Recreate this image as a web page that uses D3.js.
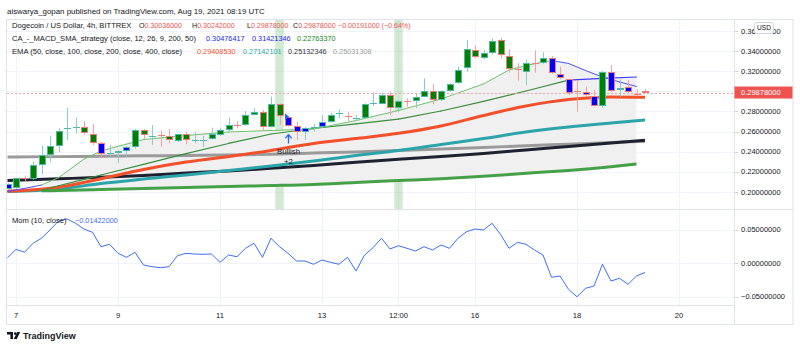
<!DOCTYPE html>
<html><head><meta charset="utf-8">
<script src="https://cdn.jsdelivr.net/npm/d3@7"></script>
<style>body{margin:0;background:#fff;}svg{display:block;font-family:"Liberation Sans",Arial,sans-serif;}</style>
</head><body><svg id="c" width="800" height="348"></svg>
<script>
// ---------- data ----------
const firstBar = "2021-08-06T20:00:00Z"; // 4h bars
const opens  = [0.2030,0.2035,0.2140,0.2125,0.2267,0.2366,0.2460,0.2620,0.2638,0.2645,0.2572,0.2490,0.2378,0.2389,0.2406,0.2443,0.2612,0.2555,0.2562,0.2558,0.2505,0.2575,0.2512,0.2515,0.2525,0.2565,0.2615,0.2668,0.2665,0.2764,0.2797,0.2648,0.2874,0.2747,0.2655,0.2598,0.2636,0.2648,0.2698,0.2778,0.2750,0.2728,0.2737,0.2878,0.2874,0.2963,0.2831,0.2900,0.2903,0.2946,0.3003,0.2913,0.3003,0.3080,0.3229,0.3411,0.3328,0.3378,0.3510,0.3354,0.3222,0.3195,0.3282,0.3279,0.3334,0.3172,0.3119,0.3000,0.2990,0.2956,0.2857,0.3195,0.3013,0.3040,0.2972,0.30036];
const highs  = [0.2085,0.2140,0.2160,0.2300,0.2459,0.2558,0.2632,0.2837,0.2737,0.2704,0.2672,0.2495,0.2466,0.2416,0.2455,0.2625,0.2625,0.2665,0.2608,0.2625,0.2575,0.2598,0.2598,0.2558,0.2638,0.2638,0.2737,0.2704,0.2804,0.2831,0.2814,0.2946,0.2880,0.2755,0.2698,0.2642,0.2675,0.2764,0.2787,0.2821,0.2797,0.2764,0.2880,0.2986,0.2986,0.2996,0.2910,0.2930,0.2980,0.3129,0.3070,0.3010,0.3080,0.3245,0.3510,0.3454,0.3411,0.3527,0.3530,0.3418,0.3279,0.3318,0.3404,0.3388,0.3350,0.3245,0.3125,0.3113,0.3046,0.3013,0.3200,0.3262,0.3119,0.3113,0.3020,0.30242];
const lows   = [0.2020,0.2030,0.2110,0.2120,0.2174,0.2300,0.2393,0.2515,0.2582,0.2565,0.2466,0.2343,0.2350,0.2284,0.2343,0.2430,0.2525,0.2466,0.2449,0.2483,0.2495,0.2473,0.2483,0.2443,0.2520,0.2555,0.2605,0.2632,0.2655,0.2760,0.2615,0.2640,0.2665,0.2650,0.2515,0.2515,0.2598,0.2640,0.2690,0.2731,0.2704,0.2704,0.2730,0.2854,0.2870,0.2764,0.2791,0.2847,0.2831,0.2940,0.2871,0.2905,0.2995,0.3075,0.3195,0.3330,0.3320,0.3370,0.3328,0.3185,0.3105,0.3063,0.3185,0.3270,0.3175,0.3120,0.2963,0.2797,0.2955,0.2850,0.2840,0.2995,0.2946,0.2985,0.2950,0.29878];
const closes = [0.2075,0.2134,0.2130,0.2267,0.2366,0.2459,0.2608,0.2638,0.2645,0.2590,0.2483,0.2376,0.2386,0.2406,0.2449,0.2615,0.2565,0.2560,0.2556,0.2515,0.2572,0.2515,0.2518,0.2520,0.2575,0.2615,0.2665,0.2662,0.2764,0.2797,0.2648,0.2874,0.2757,0.2658,0.2598,0.2638,0.2640,0.2698,0.2764,0.2782,0.2742,0.2734,0.2871,0.2884,0.2963,0.2831,0.2903,0.2895,0.2940,0.3003,0.2913,0.3003,0.3073,0.3212,0.3418,0.3338,0.3384,0.3504,0.3361,0.3222,0.3215,0.3279,0.3276,0.3328,0.3185,0.3129,0.2980,0.2993,0.2963,0.2857,0.3195,0.3003,0.3030,0.2990,0.2968,0.29878];
const bearBars = [0,11,12,13,14,33,34,35,36,37,60,62,64,65,66,67,68,69,71,72,73,74,75];
const highlightBars = [32,46];
const signalBar = 33;

const momValues = [0.0079,0.0204,0.0160,0.0294,0.0369,0.0493,0.0627,0.0657,0.0593,0.0507,0.0458,0.0243,0.0279,0.0145,0.0085,0.0160,-0.0030,-0.0055,-0.0070,-0.0055,0.0109,0.0145,0.0134,0.0130,0.0134,0.0010,0.0119,0.0094,0.0219,0.0294,0.0085,0.0369,0.0243,0.0145,0.0030,0.0030,-0.0019,0.0045,0.0010,-0.0019,0.0085,-0.0119,0.0119,0.0228,0.0369,0.0209,0.0258,0.0219,0.0179,0.0243,0.0194,0.0269,0.0219,0.0369,0.0467,0.0507,0.0493,0.0593,0.0428,0.0219,0.0309,0.0279,0.0194,0.0119,-0.0213,-0.0194,-0.0393,-0.0504,-0.0378,-0.0343,-0.0019,-0.0269,-0.0228,-0.0318,-0.0194,-0.01422];

const emaBars = [0,6,11,16,21,26,31,36,41,46,51,56,61,66,71,75];
const ema50  = [0.2005,0.2045,0.2130,0.2222,0.2296,0.2351,0.2411,0.2481,0.2530,0.2582,0.2655,0.2759,0.2854,0.2918,0.2944,0.29408530];
const ema100 = [0.2003,0.2028,0.2083,0.2127,0.2167,0.2212,0.2257,0.2306,0.2361,0.2411,0.2471,0.2530,0.2595,0.2645,0.2685,0.27142101];
const ema200 = [0.2112,0.2129,0.2144,0.2162,0.2187,0.2207,0.2234,0.2262,0.2294,0.2323,0.2351,0.2381,0.2416,0.2451,0.2486,0.25132346];
const ema400 = [0.2346,0.2350,0.2354,0.2358,0.2362,0.2367,0.2373,0.2385,0.2397,0.2410,0.2425,0.2441,0.2458,0.2474,0.2490,0.25031308];

const fastBars   = [0,3,4,6,9,11,16,21,26,31,36,41,46,51,56,59,61,64,66,68,70,72,74];
const fastValues = [0.2003,0.2050,0.2068,0.2140,0.2326,0.2406,0.2520,0.2560,0.2595,0.2610,0.2625,0.2709,0.2809,0.2923,0.3073,0.3212,0.3257,0.3306,0.3277,0.3207,0.3142,0.3093,0.30476417];
const fastTrend  = ["b","b","b","g","g","g","g","g","g","g","g","g","g","g","g","g","g","g","b","b","b","b","b"];
const slowBars   = [4,6,9,11,16,21,26,31,36,41,46,51,56,61,66,70,74];
const slowValues = [0.2013,0.2060,0.2123,0.2167,0.2273,0.2380,0.2481,0.2575,0.2630,0.2675,0.2724,0.2804,0.2899,0.3003,0.3112,0.3129,0.31421346];
const slowTrend  = ["g","g","g","g","g","g","g","g","g","g","g","g","g","g","g","b","b"];
const baseBars   = [4,6,11,16,21,26,31,36,41,46,51,56,61,66,71,74];
const baseValues = [0.2010,0.2013,0.2023,0.2033,0.2043,0.2053,0.2062,0.2073,0.2093,0.2112,0.2131,0.2155,0.2184,0.2213,0.2250,0.22763370];

const priceTicks = [0.20,0.22,0.24,0.26,0.28,0.30,0.32,0.34,0.36];
const momTicks = [0.05,0,-0.05];
const timeTicks = ["2021-08-07T00:00:00Z","2021-08-09T00:00:00Z","2021-08-11T00:00:00Z","2021-08-13T00:00:00Z","2021-08-14T12:00:00Z","2021-08-16T00:00:00Z","2021-08-18T00:00:00Z","2021-08-20T00:00:00Z"];
const timeTickLabels = ["7","9","11","13","12:00","16","18","20"];
const lastPrice = 0.29878;

// ---------- scales ----------
const svg = d3.select("#c");
const L = 6.5, R = 734.5, T = 19.5, PB = 209.5, MB = 305.5, B = 324.5, RR = 793;
const x = d3.scaleUtc().domain([new Date("2021-08-07T00:00:00Z"), new Date("2021-08-20T00:00:00Z")]).range([16, 679]);
const y = d3.scaleLinear().domain([0.20, 0.36]).range([191.8, 31.0]);
const ym = d3.scaleLinear().domain([-0.05, 0.05]).range([296.5, 229.5]);
const t0 = new Date(firstBar).getTime(), barMs = 4 * 3600 * 1000;
const bt = k => new Date(t0 + k * barMs);
const bx = k => x(bt(k));
const spacing = bx(1) - bx(0);
const fmt8 = d3.format(".8f");
const TXT = "#131722";

svg.append("rect").attr("width", 800).attr("height", 348).attr("fill", "#fff");
svg.append("text").attr("x", 7).attr("y", 14).attr("font-size", 7.9).attr("fill", TXT)
  .text("aiswarya_gopan published on TradingView.com, Aug 19, 2021 08:19 UTC");

const defs = svg.append("defs");
defs.append("clipPath").attr("id", "mainClip").append("rect").attr("x", 7).attr("y", 20).attr("width", R - 7).attr("height", PB - 20);
defs.append("clipPath").attr("id", "momClip").append("rect").attr("x", 7).attr("y", PB + 0.5).attr("width", R - 7).attr("height", MB - PB - 1);

// grid
const grid = svg.append("g").attr("stroke", "#f0f3fa").attr("stroke-width", 1);
timeTicks.forEach(t => {
  const xx = Math.round(x(new Date(t))) + 0.5;
  grid.append("line").attr("x1", xx).attr("x2", xx).attr("y1", T).attr("y2", MB);
});
priceTicks.forEach(p => {
  const yy = Math.round(y(p)) + 0.5;
  grid.append("line").attr("x1", L).attr("x2", R).attr("y1", yy).attr("y2", yy);
});
momTicks.forEach(p => {
  const yy = Math.round(ym(p)) + 0.5;
  grid.append("line").attr("x1", L).attr("x2", R).attr("y1", yy).attr("y2", yy);
});

const main = svg.append("g").attr("clip-path", "url(#mainClip)");
// highlight bands
highlightBars.forEach(k => {
  main.append("rect").attr("x", bx(k) - spacing / 2).attr("width", spacing).attr("y", 20).attr("height", PB - 20)
    .attr("fill", "rgba(76,175,80,0.26)");
});

// fill between fast/slow band and base line
const curve = d3.curveMonotoneX;
const topPts = fastBars.map((k, i) => ({ k, v: fastValues[i] })).filter(d => d.k >= 4 && d.k <= 70)
  .concat(slowBars.map((k, i) => ({ k, v: slowValues[i] })).filter(d => d.k > 70));
const basePts = baseBars.map((k, i) => ({ k, v: baseValues[i] }));
const lineP = d3.line().x(d => bx(d.k)).y(d => y(d.v)).curve(curve);
const fillPath = lineP(topPts) + lineP(basePts.slice().reverse()).replace(/^M/, "L") + "Z";
main.append("path").attr("d", fillPath).attr("fill", "#f0f0f0");

// EMAs
function drawSeries(bars, vals, color, width) {
  main.append("path").attr("d", lineP(bars.map((k, i) => ({ k, v: vals[i] }))))
    .attr("fill", "none").attr("stroke", color).attr("stroke-width", width).attr("stroke-linejoin", "round");
}
drawSeries(emaBars, ema400, "#9a9a9a", 3);
drawSeries(emaBars, ema200, "#1e2230", 3);
drawSeries(emaBars, ema100, "#2ba5a8", 3);
drawSeries(emaBars, ema50, "#f4502a", 3);
drawSeries(baseBars, baseValues, "#45a148", 3);

function drawTrend(bars, vals, trend, gColor, bColor, width) {
  for (let i = 1; i < bars.length; i++) {
    const seg = [{ k: bars[i - 1], v: vals[i - 1] }, { k: bars[i], v: vals[i] }];
    main.append("path").attr("d", lineP(seg)).attr("fill", "none")
      .attr("stroke", trend[i] === "b" ? bColor : gColor).attr("stroke-width", width).attr("stroke-linecap", "round");
  }
}
drawTrend(slowBars, slowValues, slowTrend, "#3a8f3a", "#3a3aff", 1.2);
drawTrend(fastBars, fastValues, fastTrend, "#6cc36c", "#5050ff", 1);

// last price line
const yLast = y(lastPrice);
main.append("line").attr("x1", 7).attr("x2", R).attr("y1", Math.round(yLast) + 0.5).attr("y2", Math.round(yLast) + 0.5)
  .attr("stroke", "#f4a3a3").attr("stroke-width", 1).attr("stroke-dasharray", "2,2");

// candles
const bear = new Set(bearBars);
const candles = main.append("g");
opens.forEach((o, k) => {
  const c = closes[k], h = highs[k], l = lows[k];
  const up = c >= o;
  const cx = Math.round(bx(k));
  candles.append("line").attr("x1", cx + 0.5).attr("x2", cx + 0.5)
    .attr("y1", y(h)).attr("y2", y(l)).attr("stroke", up ? "#86cfc6" : "#f3a0a0").attr("stroke-width", 1);
  const yt = Math.round(y(Math.max(o, c))), yb = Math.round(y(Math.min(o, c)));
  const hgt = Math.max(yb - yt, 1);
  candles.append("rect").attr("x", cx - 2.5).attr("y", yt + 0.5).attr("width", 6).attr("height", Math.max(hgt - 1, 0.01))
    .attr("fill", bear.has(k) ? "#0000ff" : "#008000")
    .attr("stroke", up ? "#4fb8ad" : "#ee7c7c").attr("stroke-width", 1);
});

// signal annotation
const sx = Math.round(bx(signalBar)) + 0.5;
const so = y(opens[signalBar]);
main.append("path").attr("d", `M${sx - 3.5},${so - 3.5}L${sx + 0.5},${so}L${sx - 3.5},${so + 3.5}Z`).attr("fill", "#2962ff");
const ay = y(lows[signalBar]) + 8;
main.append("path").attr("d", `M${sx},${ay}L${sx - 3},${ay + 4}M${sx},${ay}L${sx + 3},${ay + 4}M${sx},${ay}L${sx},${ay + 9}`)
  .attr("stroke", "#2962ff").attr("stroke-width", 1.3).attr("fill", "none");
main.append("text").attr("x", sx).attr("y", ay + 20).attr("text-anchor", "middle").attr("font-size", 7.8).attr("fill", TXT).text("Bullish");
main.append("text").attr("x", sx).attr("y", ay + 29.5).attr("text-anchor", "middle").attr("font-size", 7.8).attr("fill", TXT).text("+2");

// momentum
const mom = svg.append("g").attr("clip-path", "url(#momClip)");
mom.append("path").attr("d", d3.line().x((d, k) => bx(k)).y(d => ym(d))(momValues))
  .attr("fill", "none").attr("stroke", "#3f6ef5").attr("stroke-width", 1);

// borders
const bd = svg.append("g").attr("stroke", "#e0e3eb").attr("stroke-width", 1).attr("fill", "none");
bd.append("rect").attr("x", L).attr("y", T).attr("width", RR - L).attr("height", B - T);
bd.append("line").attr("x1", R).attr("x2", R).attr("y1", T).attr("y2", B);
bd.append("line").attr("x1", L).attr("x2", RR).attr("y1", PB).attr("y2", PB);
bd.append("line").attr("x1", L).attr("x2", R).attr("y1", MB).attr("y2", MB);

// price axis
const ax = svg.append("g").attr("font-size", 7.5).attr("fill", TXT);
priceTicks.forEach(p => {
  const yy = y(p);
  ax.append("line").attr("x1", R).attr("x2", R + 4).attr("y1", Math.round(yy) + 0.5).attr("y2", Math.round(yy) + 0.5).attr("stroke", "#d1d4dc");
  ax.append("text").attr("x", 741).attr("y", yy + 2.7).text(fmt8(p));
});
momTicks.forEach(p => {
  const yy = ym(p);
  ax.append("line").attr("x1", R).attr("x2", R + 4).attr("y1", Math.round(yy) + 0.5).attr("y2", Math.round(yy) + 0.5).attr("stroke", "#d1d4dc");
  ax.append("text").attr("x", 741).attr("y", yy + 2.7).text(fmt8(p));
});
// last price label
svg.append("rect").attr("x", R).attr("y", yLast - 6).attr("width", 58).attr("height", 12).attr("fill", "#ef5350");
svg.append("text").attr("x", 741).attr("y", yLast + 2.7).attr("font-size", 7.5).attr("fill", "#fff").text(fmt8(lastPrice));
// USD badge (covers part of the top tick label, as in the original)
svg.append("rect").attr("x", 754.5).attr("y", 22.5).attr("width", 19).attr("height", 11).attr("rx", 2)
  .attr("fill", "#fff").attr("stroke", "#d1d4dc");
svg.append("text").attr("x", 764).attr("y", 30.3).attr("text-anchor", "middle").attr("font-size", 6.6).attr("fill", TXT).text("USD");

// time axis
timeTicks.forEach((t, i) => {
  svg.append("text").attr("x", x(new Date(t))).attr("y", 318).attr("text-anchor", "middle")
    .attr("font-size", 7.6).attr("fill", TXT).text(timeTickLabels[i]);
});

// legends
const lg = svg.append("g").attr("font-size", 7.6);
function item(xx, yy, parts, size) {
  const t = lg.append("text").attr("x", xx).attr("y", yy);
  if (size) t.attr("font-size", size);
  parts.forEach(([s, col]) => t.append("tspan").attr("fill", col).text(s));
}
const RED = "#ef5350";
item(12, 28, [["Dogecoin / US Dollar, 4h, BITTREX", TXT]]);
item(139, 28, [["O", TXT], [fmt8(opens[75]), RED]], 7.1);
item(192, 28, [["H", TXT], [fmt8(highs[75]), RED]], 7.1);
item(247, 28, [["L", TXT], [fmt8(lows[75]), RED]], 7.1);
item(293, 28, [["C", TXT], [fmt8(closes[75]), RED]], 7.1);
item(338, 28, [["−0.00191000 (−0.64%)", RED]], 7.1);
item(12, 41, [["CA_-_MACD_SMA_strategy (close, 12, 26, 9, 200, 50)", TXT]]);
item(206, 41, [[fmt8(fastValues[fastValues.length - 1]), "#2323ff"]], 7.3);
item(252, 41, [[fmt8(slowValues[slowValues.length - 1]), "#2323ff"]], 7.3);
item(297, 41, [[fmt8(baseValues[baseValues.length - 1]), "#178a17"]], 7.3);
item(12, 53.5, [["EMA (50, close, 100, close, 200, close, 400, close)", TXT]]);
item(197, 53.5, [[fmt8(ema50[ema50.length - 1]), "#f4502a"]], 7.3);
item(243, 53.5, [[fmt8(ema100[ema100.length - 1]), "#2ba5a8"]], 7.3);
item(288, 53.5, [[fmt8(ema200[ema200.length - 1]), "#333"]], 7.3);
item(333, 53.5, [[fmt8(ema400[ema400.length - 1]), "#a0a0a0"]], 7.3);
item(12, 222.5, [["Mom (10, close)", TXT]]);
item(75, 222.5, [[fmt8(momValues[momValues.length - 1]).replace("-", "−"), "#3f6ef5"]], 7.3);

// TradingView logo
const lgo = svg.append("g").attr("fill", TXT);
lgo.append("path").attr("d", "M7,332h6v7h-2.6v-4.6H7Z");
lgo.append("circle").attr("cx", 15.2).attr("cy", 333.6).attr("r", 1.3);
lgo.append("path").attr("d", "M17.2,332h3l-3.4,7h-3Z");
svg.append("text").attr("x", 23).attr("y", 338.6).attr("font-size", 9).attr("font-weight", "bold").attr("fill", TXT).text("TradingView");
</script></body></html>
